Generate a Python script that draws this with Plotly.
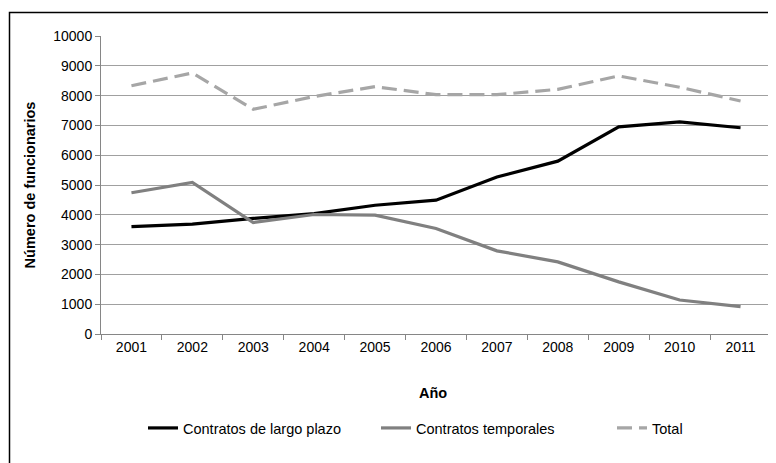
import plotly.graph_objects as go

years = ["2001", "2002", "2003", "2004", "2005", "2006", "2007", "2008", "2009", "2010", "2011"]
largo_plazo = [3600, 3690, 3880, 4040, 4320, 4490, 5270, 5800, 6950, 7120, 6920]
temporales = [4740, 5090, 3740, 4010, 3990, 3540, 2790, 2420, 1750, 1140, 920]
total = [8330, 8760, 7540, 7970, 8300, 8030, 8030, 8210, 8660, 8280, 7820]
y_ticks = [0, 1000, 2000, 3000, 4000, 5000, 6000, 7000, 8000, 9000, 10000]

FONT = "Liberation Sans, Arial, sans-serif"
OFF = 8  # page body margin
W, H = 776 - OFF, 463 - OFF
L, T = 101 - OFF, 36 - OFF
R = W - (771 - OFF)
B = H - (334 - OFF)
pw, ph = W - L - R, H - T - B

def px_x(v):
    v = v - OFF
    return (v - L) / pw

def px_y(v):
    v = v - OFF
    return (H - B - v) / ph

fig = go.Figure()
fig.add_trace(go.Scatter(x=years, y=largo_plazo, mode="lines", name="Contratos de largo plazo",
                         line=dict(color="#000000", width=3.2), legend="legend"))
fig.add_trace(go.Scatter(x=years, y=temporales, mode="lines", name="Contratos temporales",
                         line=dict(color="#808080", width=3.2), legend="legend2"))
fig.add_trace(go.Scatter(x=years, y=total, mode="lines", name="Total",
                         line=dict(color="#a6a6a6", width=3.2, dash="15px,7px"), legend="legend3"))

def leg(xpx):
    return dict(orientation="h", x=px_x(xpx - 5), y=px_y(428), xanchor="left", yanchor="middle",
                font=dict(size=14.5), bgcolor="rgba(0,0,0,0)", borderwidth=0)

fig.update_layout(
    width=W, height=H,
    margin=dict(l=L, r=R, t=T, b=B, pad=0),
    paper_bgcolor="white", plot_bgcolor="white",
    font=dict(family=FONT, size=14, color="#000000"),
    showlegend=True,
    legend=leg(148), legend2=leg(381), legend3=leg(617),
    xaxis=dict(type="category", range=[-0.5, 10.5], tickson="boundaries", ticks="outside",
               ticklen=5, tickcolor="#868686", showline=True, linecolor="#868686", linewidth=1,
               showgrid=False, tickfont=dict(size=14), fixedrange=True),
    yaxis=dict(range=[0, 10000], tickvals=y_ticks, ticktext=[str(v) for v in y_ticks],
               ticks="outside", ticklen=5, tickcolor="#868686", showline=True, linecolor="#868686",
               linewidth=1, showgrid=True, gridcolor="#a0a0a0", gridwidth=1, zeroline=False,
               tickfont=dict(size=14),
               title=dict(text="<b>Número de funcionarios</b>", font=dict(size=14.5), standoff=14)),
    annotations=[dict(text="<b>Año</b>", xref="paper", yref="paper", x=px_x(433), y=px_y(393),
                      xanchor="center", yanchor="middle", showarrow=False, font=dict(size=14.5))],
    shapes=[dict(type="rect", xref="paper", yref="paper", x0=px_x(9.5), x1=px_x(800),
                 y0=px_y(490), y1=px_y(12.5), line=dict(color="#000000", width=1.5),
                 fillcolor="rgba(0,0,0,0)", layer="above")],
)

fig.write_html("out.html")
